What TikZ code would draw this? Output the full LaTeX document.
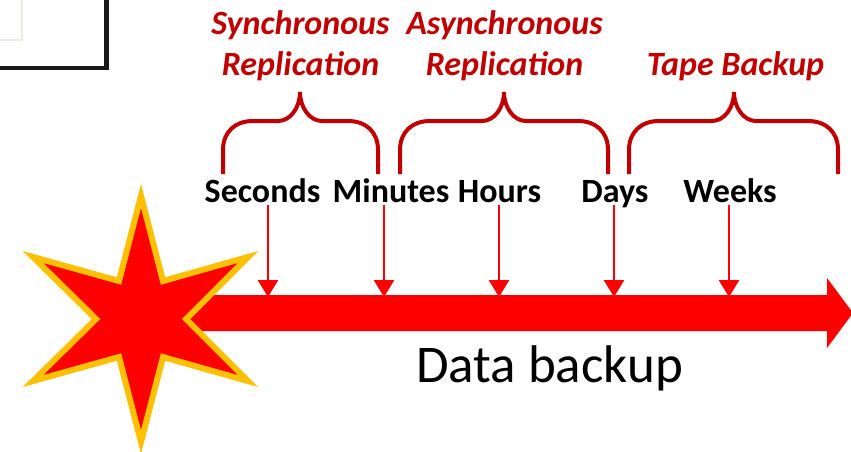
\documentclass[tikz,border=0pt]{standalone}
\usepackage{fontspec}
\setmainfont{Carlito}
\usetikzlibrary{arrows.meta}
\definecolor{darkred}{HTML}{C00000}
\definecolor{gold}{HTML}{FFC000}
\definecolor{cream}{HTML}{EEEBE0}
\tikzset{
  timelabel/.style={font=\fontsize{34}{38}\selectfont\bfseries,text=black,inner sep=0pt,anchor=base},
  tech/.style={font=\fontsize{34}{41}\selectfont\bfseries\itshape,text=darkred,inner sep=0pt,align=center,anchor=center},
  curly/.style={draw=darkred,line width=4pt},
  tick/.style={draw=red,line width=2.8pt,-{Triangle[width=20pt,length=17pt,fill=red]},shorten >=-1pt},
}
\newcommand{\curlybrace}[3]{%
  \draw[curly] (#1,174) -- (#1,150) .. controls (#1,132) and ({#1+12},121) .. ({#1+30},121)
    -- ({#2-22},121) .. controls ({#2-10},121) and (#2,108) .. (#2,92)
    .. controls (#2,108) and ({#2+10},121) .. ({#2+22},121)
    -- ({#3-30},121) .. controls ({#3-12},121) and (#3,132) .. (#3,150) -- (#3,174);}
\begin{document}
\begin{tikzpicture}[x=1pt,y=-1pt]
\useasboundingbox (0,0) rectangle (851,451);
\clip (0,0) rectangle (851,451);
% window corner
\draw[cream,line width=1.5pt] (0,40) -- (22,40) -- (22,0);
\draw[black!90,line width=4.5pt] (0,68) -- (106.5,68) -- (106.5,0);
% braces
\curlybrace{223}{300}{378}
\curlybrace{400}{504}{608}
\curlybrace{629}{734}{838}
% brace labels
\node[tech] (sync) at (300.5,46) {Synchronous\\Replication};
\node[tech] (async) at (504.5,46) {Asynchronous\\Replication};
\node[tech] (tape) at (735.5,66) {Tape Backup};
% time labels
\node[timelabel] (seconds) at (262.5,202) {Seconds};
\node[timelabel] (minutes) at (391,202) {Minutes};
\node[timelabel] (hours) at (499.5,202) {Hours};
\node[timelabel] (days) at (615,202) {Days};
\node[timelabel] (weeks) at (730,202) {Weeks};
% main arrow
\fill[red] (190,295) -- (827,295) -- (827,278) -- (853,313) -- (827,348) -- (827,331) -- (190,331) -- cycle;
\coordinate (sT) at (268,205); \coordinate (sB) at (268,296);
\coordinate (mT) at (384,205); \coordinate (mB) at (384,296);
\coordinate (hT) at (499,205); \coordinate (hB) at (499,296);
\coordinate (dT) at (614,205); \coordinate (dB) at (614,296);
\coordinate (wT) at (729,205); \coordinate (wB) at (729,296);
\draw[tick] (sT) -- (sB);
\draw[tick] (mT) -- (mB);
\draw[tick] (hT) -- (hB);
\draw[tick] (dT) -- (dB);
\draw[tick] (wT) -- (wB);
% star
\filldraw[fill=red,draw=gold,line width=6pt,miter limit=20]
  (141,196) -- (163,281) -- (248,257) -- (186,319) -- (248,381) -- (163,357)
  -- (141,442) -- (119,357) -- (33,381) -- (96,319) -- (33,257) -- (119,281) -- cycle;
\node[font=\fontsize{53}{58}\selectfont,inner sep=0pt] (backup) at (549.5,368) {Data backup};
\end{tikzpicture}
\end{document}
